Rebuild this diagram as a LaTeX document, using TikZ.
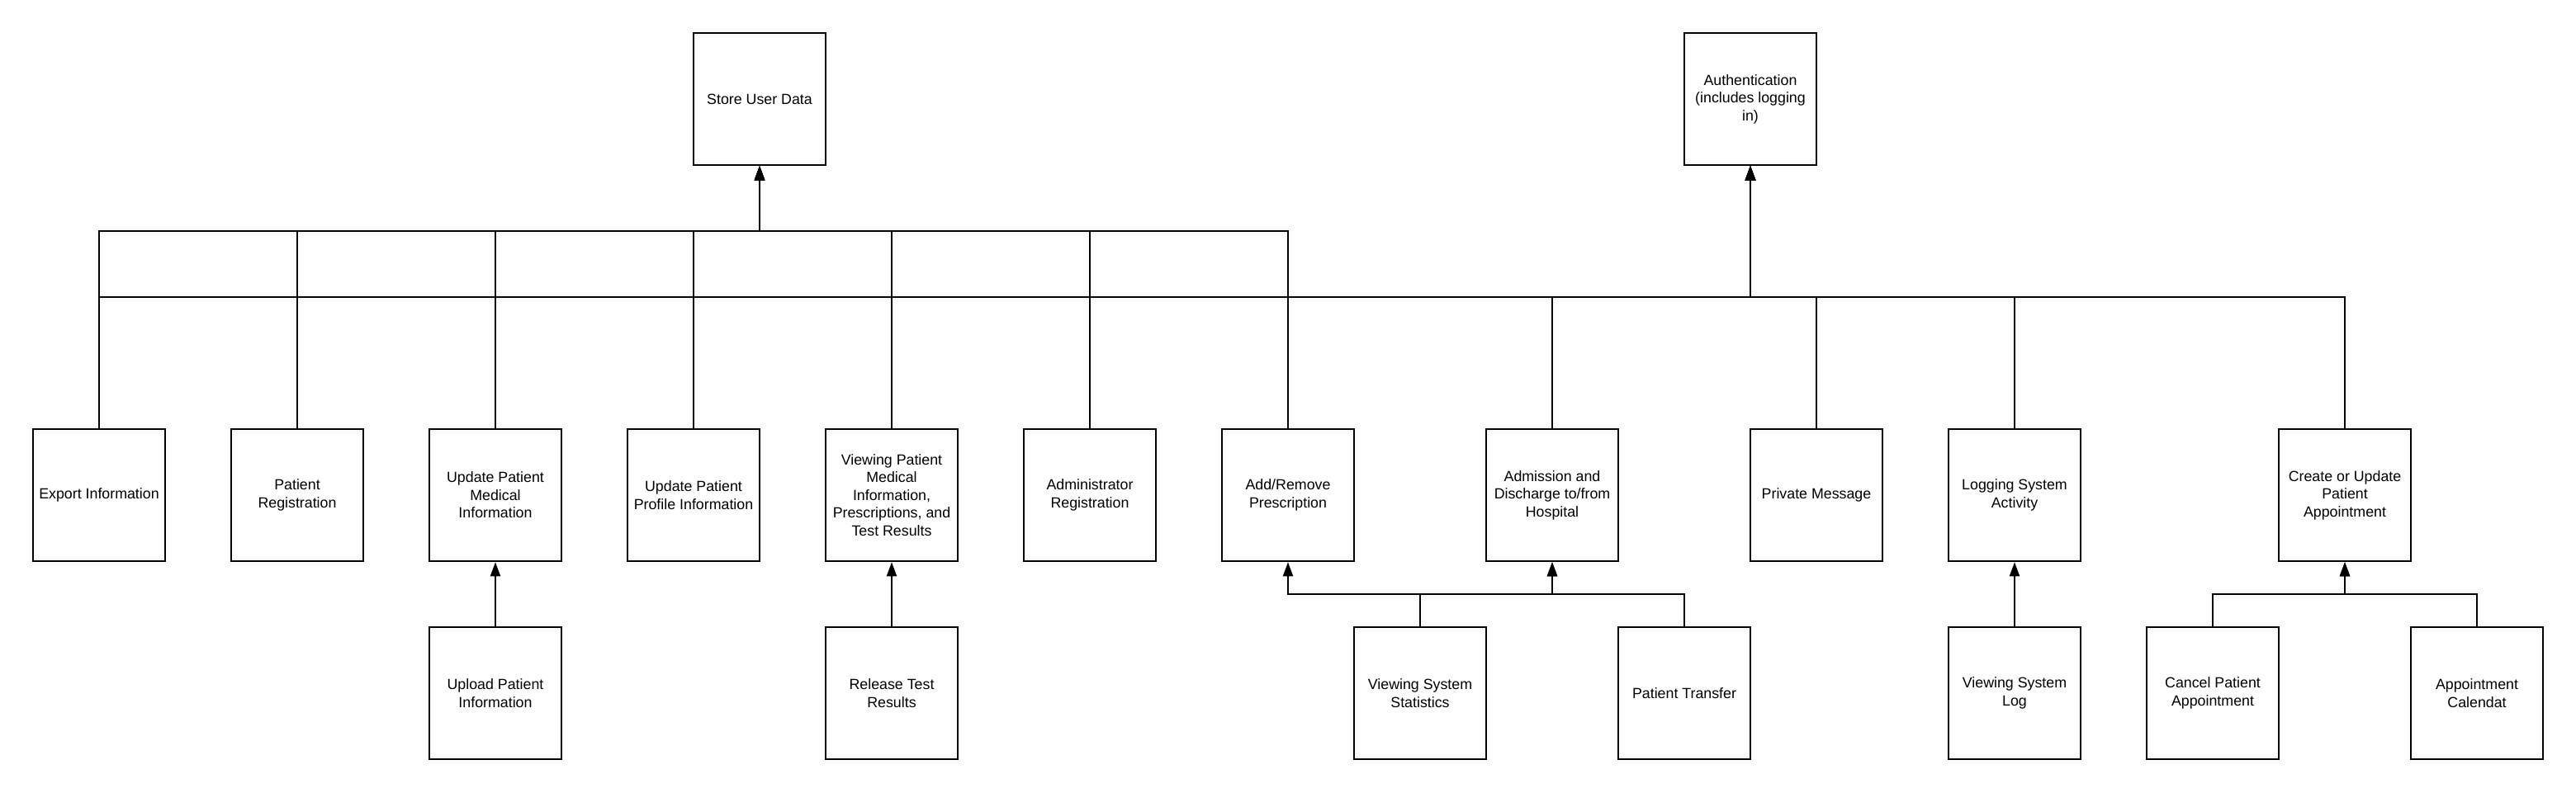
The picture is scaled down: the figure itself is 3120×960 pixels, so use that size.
\documentclass[tikz,border=0pt]{standalone}
\usepackage{fontspec}
\setmainfont{Liberation Sans}
\usetikzlibrary{arrows.meta}
\begin{document}
\begin{tikzpicture}[x=0.5pt,y=-0.5pt,
  box/.style={draw=black, line width=1.25pt, minimum width=80pt, minimum height=80pt,
    inner sep=0pt, align=center, font=\fontsize{8.9pt}{10.8pt}\selectfont},
  conn/.style={draw=black, line width=1pt},
  arr/.style={conn, -{Triangle[length=8.5pt,width=6pt]}}]
\useasboundingbox (0,0) rectangle (3120,960);
\fill[white] (0,0) rectangle (3120,960);
% top
\node[box] (store) at (920,120) {Store User Data};
\node[box] (auth) at (2120,120) {Authentication\\(includes logging\\in)};
% row 1
\node[box] (exp) at (120,600) {Export Information};
\node[box] (preg) at (360,600) {Patient\\Registration};
\node[box] (updmed) at (600,600) {Update Patient\\Medical\\Information};
\node[box] (updprof) at (840,600) {Update Patient\\Profile Information};
\node[box] (view) at (1080,600) {Viewing Patient\\Medical\\Information,\\Prescriptions, and\\Test Results};
\node[box] (admin) at (1320,600) {Administrator\\Registration};
\node[box] (addrem) at (1560,600) {Add/Remove\\Prescription};
\node[box] (adm) at (1880,600) {Admission and\\Discharge to/from\\Hospital};
\node[box] (pm) at (2200,600) {Private Message};
\node[box] (logact) at (2440,600) {Logging System\\Activity};
\node[box] (create) at (2840,600) {Create or Update\\Patient\\Appointment};
% row 2
\node[box] (upload) at (600,840) {Upload Patient\\Information};
\node[box] (release) at (1080,840) {Release Test\\Results};
\node[box] (vss) at (1720,840) {Viewing System\\Statistics};
\node[box] (ptrans) at (2040,840) {Patient Transfer};
\node[box] (vsl) at (2440,840) {Viewing System\\Log};
\node[box] (cancel) at (2680,840) {Cancel Patient\\Appointment};
\node[box] (cal) at (3000,840) {Appointment\\Calendat};
% junctions
\coordinate (s1) at (920,280);
\coordinate (a2) at (2120,360);
\coordinate (j1) at (1560,720);
\coordinate (j2) at (1880,720);
\coordinate (j3) at (2840,720);
% to Store User Data
\foreach \n in {exp,preg,updmed,updprof,view,admin,addrem}
  \draw[arr] (\n.north) |- (s1) -- (store.south);
% to Authentication
\foreach \n in {exp,preg,updmed,updprof,view,admin,addrem,adm,pm,logact,create}
  \draw[arr] (\n.north) |- (a2) -- (auth.south);
% lower tier
\draw[arr] (upload.north) -- (updmed.south);
\draw[arr] (release.north) -- (view.south);
\draw[arr] (vss.north) |- (j1) -- (addrem.south);
\draw[arr] (vss.north) |- (j2) -- (adm.south);
\draw[arr] (ptrans.north) |- (j2) -- (adm.south);
\draw[arr] (vsl.north) -- (logact.south);
\draw[arr] (cancel.north) |- (j3) -- (create.south);
\draw[arr] (cal.north) |- (j3) -- (create.south);
\end{tikzpicture}
\end{document}
